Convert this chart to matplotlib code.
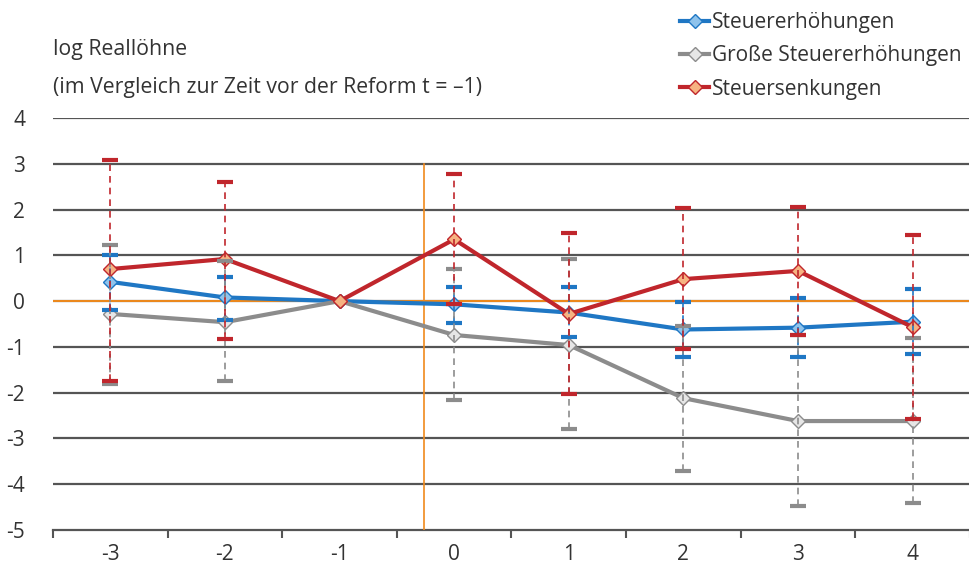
import numpy as np
import matplotlib.pyplot as plt

plt.rcParams['font.family'] = ['Open Sans', 'DejaVu Sans']
plt.rcParams['axes.unicode_minus'] = False

labels = ['-3', '-2', '-1', '0', '1', '2', '3', '4']

# Steuererhöhungen
blue = [0.42, 0.08, 0.0, -0.07, -0.25, -0.62, -0.58, -0.45]
blue_hi = [1.0, 0.52, 0.0, 0.3, 0.3, -0.02, 0.07, 0.26]
blue_lo = [-0.2, -0.42, 0.0, -0.48, -0.78, -1.22, -1.22, -1.16]

# Große Steuererhöhungen
gray = [-0.28, -0.46, 0.0, -0.74, -0.96, -2.12, -2.62, -2.62]
gray_hi = [1.22, 0.88, 0.0, 0.7, 0.92, -0.55, -0.75, -0.8]
gray_lo = [-1.82, -1.75, 0.0, -2.17, -2.8, -3.72, -4.48, -4.42]

# Steuersenkungen
red = [0.7, 0.92, 0.0, 1.35, -0.28, 0.48, 0.66, -0.57]
red_hi = [3.08, 2.6, 0.0, 2.77, 1.48, 2.03, 2.05, 1.44]
red_lo = [-1.75, -0.83, 0.0, -0.07, -2.03, -1.05, -0.74, -2.58]

reform_pos = 2.74

fig = plt.figure(figsize=(9.7, 5.71), dpi=100)
ax = fig.add_axes([53/970, 1 - 530/571, 917/970, 412/571])

x = np.arange(len(labels))

series = [
    ('Steuererhöhungen', blue, blue_lo, blue_hi, '#1f77c4', '#8fc3ec'),
    ('Große Steuererhöhungen', gray, gray_lo, gray_hi, '#8c8c8c', '#e6e6e6'),
    ('Steuersenkungen', red, red_lo, red_hi, '#c0262c', '#f6b382'),
]

for y in range(-4, 5):
    ax.axhline(y, color='#555555', lw=1.6, zorder=1)

ax.axhline(0, color='#f08a1c', lw=1.4, zorder=2)
ax.plot([reform_pos, reform_pos], [-5, 3], color='#f08a1c', lw=1.2, zorder=2)

for name, vals, lo, hi, col, fill in series:
    vals = np.array(vals)
    yerr = [vals - np.array(lo), np.array(hi) - vals]
    m = np.array(hi) != np.array(lo)
    eb = ax.errorbar(x[m], vals[m], yerr=[yerr[0][m], yerr[1][m]], fmt='none',
                     ecolor=col, elinewidth=1.2, capsize=6, capthick=3, zorder=4)
    eb[-1][0].set_linestyle((0, (4, 3)))
    ax.plot(x, vals, color=col, lw=3, marker='D', markersize=7,
            markerfacecolor=fill, markeredgecolor=col, markeredgewidth=1,
            label=name, zorder=3)

ax.set_xlim(-0.5, len(labels) - 0.5)
ax.set_ylim(-5, 4)
ax.set_yticks(range(-5, 5))
ax.set_xticks(x)
ax.set_xticklabels(labels)
ax.set_xticks(np.arange(-0.5, len(labels), 1), minor=True)
ax.tick_params(axis='x', which='major', length=0, pad=10, labelsize=15, colors='#333333')
ax.tick_params(axis='x', which='minor', length=6, width=1.5, color='#555555', direction='out')
ax.tick_params(axis='y', length=0, pad=20, labelsize=15, colors='#333333')
for s in ['top', 'right', 'left']:
    ax.spines[s].set_visible(False)
ax.spines['bottom'].set_color('#555555')
ax.spines['bottom'].set_linewidth(1.6)
ax.spines['bottom'].set_zorder(1)

fig.text(53/970, 1 - 50/571, 'log Reallöhne', fontsize=15.3, color='#333333', va='center')
fig.text(53/970, 1 - 87/571, '(im Vergleich zur Zeit vor der Reform t = \u20131)',
         fontsize=15.3, color='#333333', va='center')

leg = fig.legend(loc='upper left', bbox_to_anchor=(672/970, 1 - 4/571), frameon=False,
                 fontsize=15, handlelength=1.4, handletextpad=0.1, labelspacing=0.58,
                 labelcolor='#333333', borderaxespad=0)

fig.savefig('out.png', dpi=100)
